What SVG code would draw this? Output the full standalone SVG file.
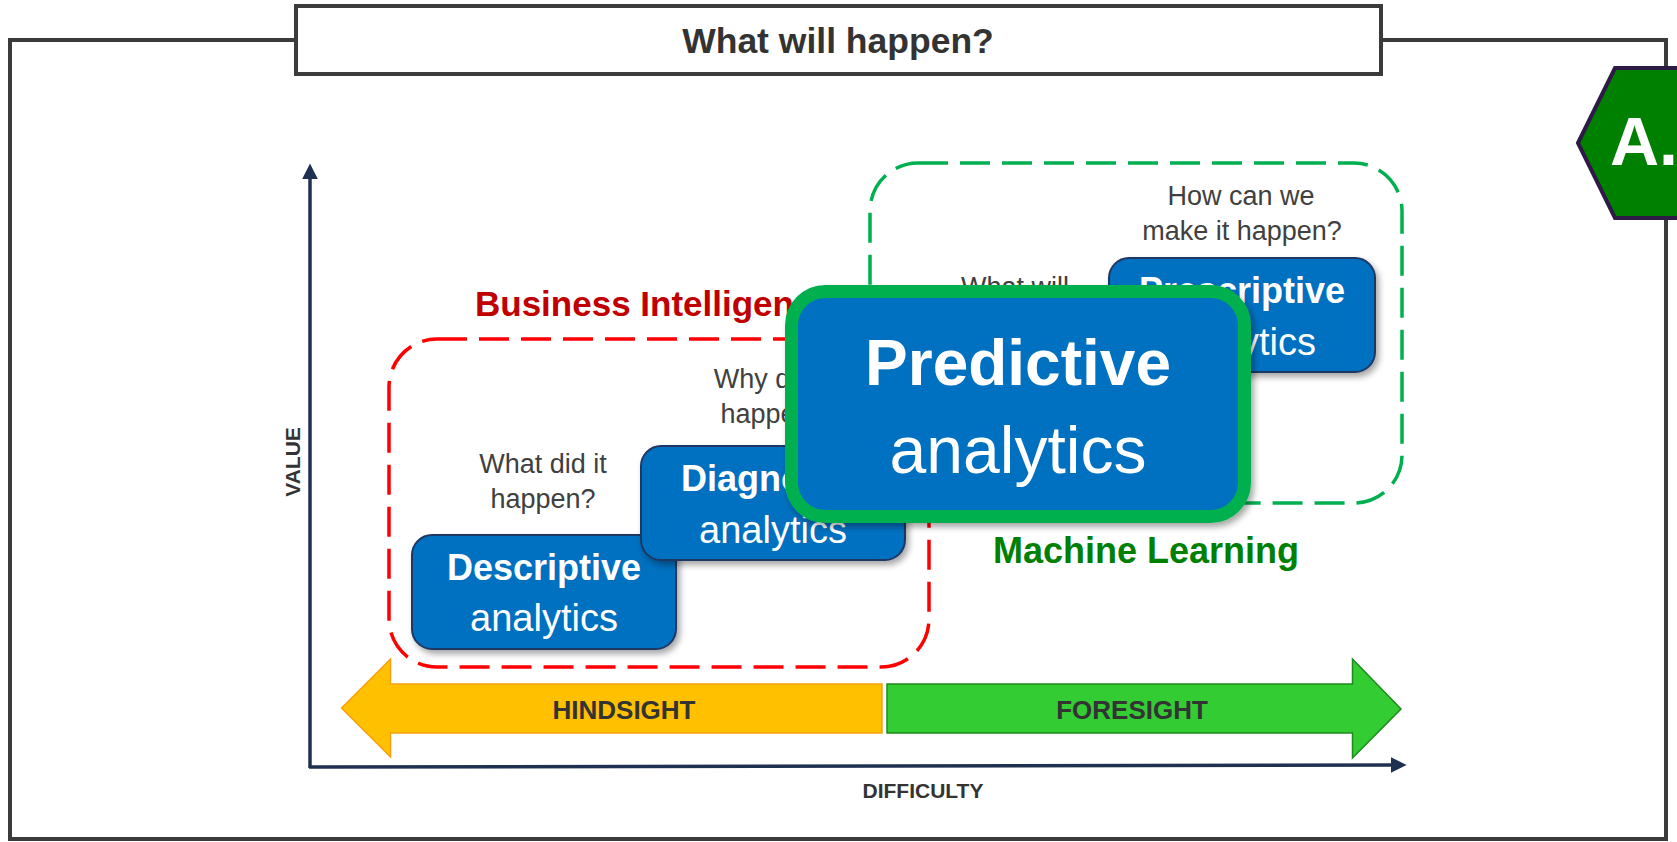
<svg xmlns="http://www.w3.org/2000/svg" width="1677" height="842" viewBox="0 0 1677 842">
<defs>
<style>
.q{font-family:"Liberation Sans",Arial,sans-serif;font-size:27px;fill:#404040;text-anchor:middle}
.lbl{font-family:"Liberation Sans",Arial,sans-serif;font-weight:bold;fill:#333333;text-anchor:middle}
.bx{fill:#0070c0;stroke:#1f3864;stroke-width:2}
.bt{font-family:"Liberation Sans",Arial,sans-serif;font-weight:bold;font-size:36px;fill:#ffffff;text-anchor:middle}
.rt{font-family:"Liberation Sans",Arial,sans-serif;font-size:38px;fill:#ffffff;text-anchor:middle}
.axis{stroke:#1f3050;stroke-width:3.5;fill:none}
</style>
<marker id="ah" viewBox="0 0 10 10" refX="2" refY="5" markerWidth="4.5" markerHeight="4.5" orient="auto" markerUnits="strokeWidth">
<path d="M0,0 L10,5 L0,10 z" fill="#1f3050"/>
</marker>
<filter id="sh" x="-10%" y="-10%" width="130%" height="140%">
<feDropShadow dx="3" dy="4" stdDeviation="3" flood-color="#000" flood-opacity="0.35"/>
</filter>
</defs>

<g id="frame">
<rect x="10" y="40" width="1656" height="799" fill="#ffffff" stroke="#3b3b3b" stroke-width="4"/>
</g>
<g id="title">
<rect x="296" y="6" width="1085" height="68" fill="#ffffff" stroke="#3b3b3b" stroke-width="4"/>
<text x="838" y="53" class="lbl" font-size="35.5">What will happen?</text>
</g>

<g id="connectors">
<line class="axis" x1="310" y1="768" x2="310" y2="176" marker-end="url(#ah)"/>
<line class="axis" x1="309" y1="767" x2="1394" y2="765" marker-end="url(#ah)"/>
</g>

<g id="axis-labels">
<text class="lbl" font-size="21" transform="translate(300,462) rotate(-90)">VALUE</text>
<text class="lbl" font-size="21" x="923" y="798">DIFFICULTY</text>
</g>

<g id="bi-group">
<rect x="389" y="339" width="540" height="328" rx="48" fill="none" stroke="#ff0000" stroke-width="3.5" stroke-dasharray="30 12"/>
<text x="475" y="316" font-family="'Liberation Sans',Arial,sans-serif" font-weight="bold" font-size="35" fill="#c00000">Business Intelligence</text>
</g>

<g id="ml-group">
<rect x="870" y="163" width="532" height="340" rx="48" fill="none" stroke="#00b050" stroke-width="3.5" stroke-dasharray="30 12"/>
<text x="1146" y="563" class="lbl" font-size="36" style="fill:#008000">Machine Learning</text>
</g>

<g id="questions">
<text class="q" x="543" y="473">What did it</text>
<text class="q" x="543" y="508">happen?</text>
<text class="q" x="773" y="388">Why did it</text>
<text class="q" x="773" y="423">happen?</text>
<text class="q" x="1015" y="296">What will</text>
<text class="q" x="1015" y="331">happen?</text>
<text class="q" x="1241" y="205">How can we</text>
<text class="q" x="1242" y="240">make it happen?</text>
</g>

<g id="hindsight">
<polygon points="341.5,708 390.5,659 390.5,684 882,684 882,733 390.5,733 390.5,757" fill="#ffc000" stroke="#f5a010" stroke-width="1.5"/>
<text class="lbl" font-size="26" x="624" y="719">HINDSIGHT</text>
</g>
<g id="foresight">
<polygon points="887,684 1352.5,684 1352.5,659 1401,709 1352.5,758 1352.5,733 887,733" fill="#33cc33" stroke="#1e8a1e" stroke-width="1.5"/>
<text class="lbl" font-size="26" x="1132" y="719">FORESIGHT</text>
</g>

<g id="descriptive">
<rect class="bx" x="412" y="535" width="264" height="114" rx="20" filter="url(#sh)"/>
<text class="bt" x="544" y="580">Descriptive</text>
<text class="rt" x="544" y="631">analytics</text>
</g>
<g id="diagnostic">
<rect class="bx" x="641" y="446" width="264" height="114" rx="20" filter="url(#sh)"/>
<text class="bt" x="773" y="491">Diagnostic</text>
<text class="rt" x="773" y="543">analytics</text>
</g>
<g id="prescriptive">
<rect class="bx" x="1109" y="258" width="266" height="114" rx="20" filter="url(#sh)"/>
<text class="bt" x="1242" y="303">Prescriptive</text>
<text class="rt" x="1242" y="355">analytics</text>
</g>
<g id="predictive">
<rect x="791.5" y="291.5" width="453" height="225" rx="34" fill="#0070c0" stroke="#00b050" stroke-width="13" filter="url(#sh)"/>
<text class="bt" x="1018" y="385" style="font-size:64px">Predictive</text>
<text class="rt" x="1018" y="473" style="font-size:66px">analytics</text>
</g>

<g id="badge">
<polygon points="1578,143 1615,68 1722,68 1759,143 1722,218 1615,218" fill="#008000" stroke="#2d1a45" stroke-width="4"/>
<text x="1610" y="165" font-family="'Liberation Sans',Arial,sans-serif" font-weight="bold" font-size="68" fill="#ffffff">A.</text>
</g>
</svg>
